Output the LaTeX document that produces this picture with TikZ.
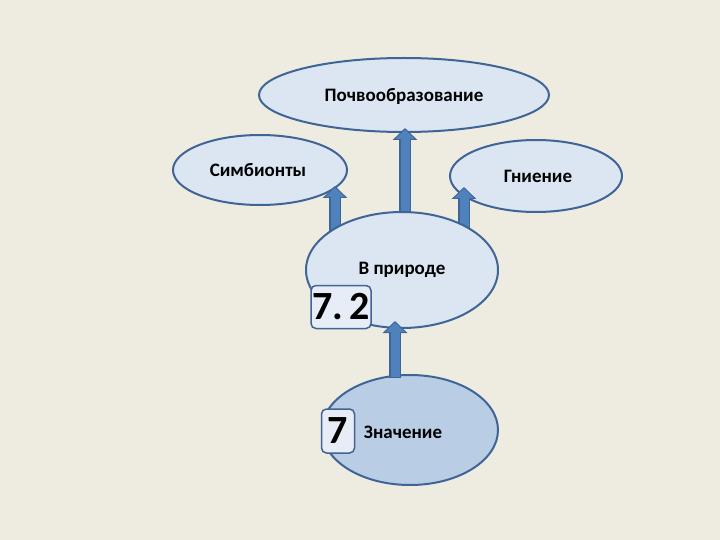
\documentclass[tikz,border=0pt]{standalone}
\usepackage{fontspec}
\setmainfont{Carlito}
\usetikzlibrary{arrows.meta,shapes.geometric}
\definecolor{bg}{HTML}{EEEBE1}
\definecolor{lf}{HTML}{DCE6F2}
\definecolor{df}{HTML}{B9CDE5}
\definecolor{bd}{HTML}{3F6597}
\definecolor{ar}{HTML}{4F81BD}
\tikzset{
 ell/.style={ellipse, draw=bd, line width=2pt, fill=lf, inner sep=0pt},
 lbl/.style={font=\fontsize{19}{22}\selectfont\bfseries, inner sep=0pt},
 numbox/.style={draw=bd, line width=1.5pt, rounded corners=5pt, fill=lf!70!white, font=\fontsize{40}{44}\selectfont\bfseries, inner sep=0pt},
 blk/.style={line width=12pt, draw=bd, -{Triangle[width=24pt,length=12pt]}},
 blkin/.style={line width=9pt, draw=ar, -{Triangle[width=19pt,length=9.5pt]}, shorten >=1.5pt, shorten <=1pt},
}
\begin{document}
\begin{tikzpicture}[x=1pt,y=-1pt]
\fill[bg] (0,0) rectangle (720,540);
\useasboundingbox (0,0) rectangle (720,540);
\node[ell, minimum width=290, minimum height=74] (top) at (404,95) {};
\node[lbl] (topt) at (404,96) {Почвообразование};
\node[ell, minimum width=174, minimum height=70] (sym) at (260,170) {};
\node[lbl] (symt) at (258,170) {Симбионты};
\node[ell, minimum width=172, minimum height=72] (gn) at (536,176) {};
\node[lbl] (gnt) at (538,176) {Гниение};
\coordinate (a1s) at (405,212); \coordinate (a1e) at (405,128);
\coordinate (a2s) at (335,234); \coordinate (a2e) at (335,186);
\coordinate (a3s) at (464,232); \coordinate (a3e) at (464,187);
\coordinate (a4s) at (395,378); \coordinate (a4e) at (395,321);
\draw[blk] (a1s) -- (a1e); \draw[blkin] (a1s) -- (a1e);
\draw[blk] (a2s) -- (a2e); \draw[blkin] (a2s) -- (a2e);
\draw[blk] (a3s) -- (a3e); \draw[blkin] (a3s) -- (a3e);
\node[ell, minimum width=192, minimum height=116] (vp) at (402,270) {};
\node[lbl] (vpt) at (402,270) {В природе};
\node[ell, fill=df, minimum width=176, minimum height=110] (zn) at (410,430) {};
\node[lbl] (znt) at (403,432) {Значение};
\draw[blk] (a4s) -- (a4e); \draw[blkin] (a4s) -- (a4e);
\node[numbox, minimum width=60, minimum height=43] (n72) at (341,307) {7.\,2};
\node[numbox, minimum width=33, minimum height=44] (n7) at (338,431) {7};
\end{tikzpicture}
\end{document}
